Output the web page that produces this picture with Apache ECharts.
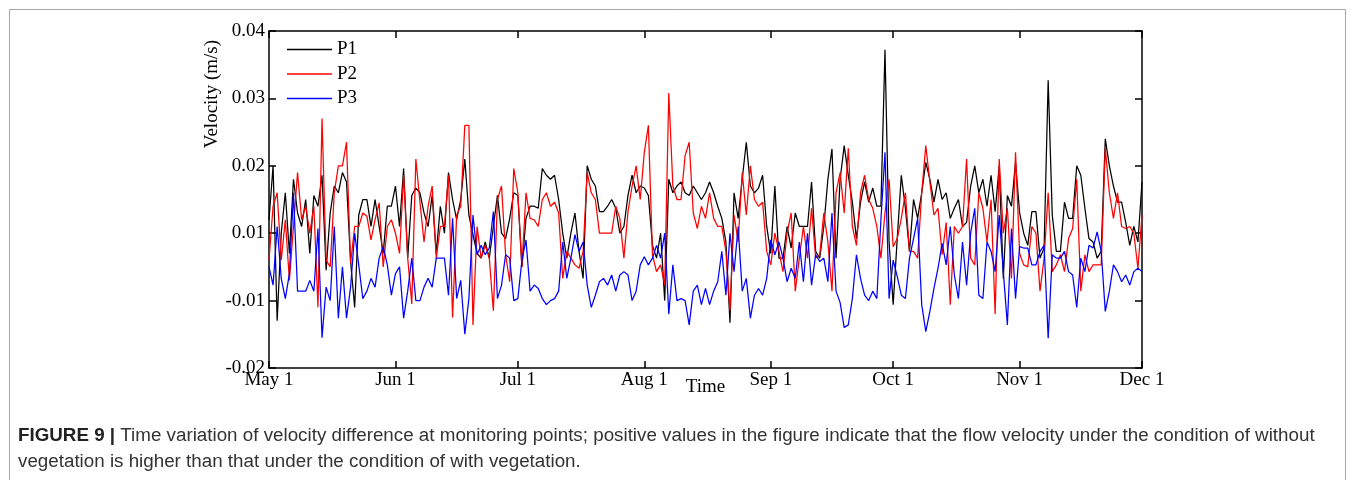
<!DOCTYPE html>
<html>
<head>
<meta charset="utf-8">
<script src="https://cdn.jsdelivr.net/npm/echarts@6/dist/echarts.min.js"></script>
<style>
html,body{margin:0;padding:0;background:#fff;}
#chart{width:1355px;height:480px;}
</style>
</head>
<body>
<div id="chart"></div>
<script>
// Day offsets from May 1 and their tick labels
const monthDays = [0, 31, 61, 92, 123, 153, 184, 214];
const monthLabels = ['May 1', 'Jun 1', 'Jul 1', 'Aug 1', 'Sep 1', 'Oct 1', 'Nov 1', 'Dec 1'];
// Y tick labels as printed in the figure (bottom to top)
const yTickLabels = ['-0.02', '-0.01', '0.01', '0.02', '0.03', '0.04'];
const seriesNames = ['P1', 'P2', 'P3'];

// Daily values, May 1 .. Dec 1 (axis units)
const p1 = [0.012,0.020,-0.003,0.010,0.016,0.007,0.018,0.013,0.011,0.015,0.007,0.0156,0.014,0.0186,0.0045,0.013,0.017,0.016,0.019,0.0176,0.0058,-0.001,0.0127,0.015,0.015,0.011,0.015,0.011,0.007,0.014,0.014,
0.017,0.011,0.0196,0.0063,0.0156,0.0167,0.016,0.013,0.011,0.0156,0.007,0.014,0.010,0.019,0.015,0.012,0.015,0.021,0.0127,0.0098,0.007,0.0063,0.0087,0.0063,0.011,0.0156,0.010,0.0092,0.0122,0.016,
0.0156,0.005,0.0122,0.014,0.014,0.0137,0.0196,0.0186,0.018,0.0186,0.015,0.010,0.0063,0.010,0.013,0.0073,0.0033,0.020,0.018,0.017,0.0132,0.0132,0.014,0.015,0.0137,0.010,0.011,0.0156,0.0186,0.016,0.017,
0.0167,0.0156,0.0082,0.0063,0.010,0.000,0.018,0.016,0.017,0.0176,0.016,0.0156,0.017,0.016,0.015,0.016,0.0176,0.016,0.014,0.0122,0.0087,-0.0033,0.016,0.0122,0.018,0.0235,0.017,0.016,0.0167,0.0186,0.011,
0.007,0.017,0.0063,0.0063,0.011,0.0078,0.013,0.011,0.011,0.011,0.0176,0.0073,0.0063,0.011,0.018,0.0225,0.0063,0.018,0.023,0.0186,0.0146,0.0092,0.0146,0.0176,0.0146,0.0167,0.014,0.014,0.0372,0.0087,
-0.0006,0.0092,0.0186,0.0137,0.0073,0.015,0.0122,0.016,0.0205,0.018,0.0146,0.018,0.015,0.016,0.0122,0.0137,0.015,0.011,0.0116,0.017,0.020,0.016,0.018,0.014,0.0186,0.0132,0.020,0.0033,0.0156,0.014,0.0205,
0.013,0.010,0.0082,0.0132,0.0132,0.0063,0.0078,0.0327,0.0127,0.0073,0.0073,0.0146,0.0122,0.0122,0.020,0.0186,0.0137,0.0092,0.0087,0.0063,0.0073,0.024,0.020,0.017,0.0146,0.0146,0.0116,0.0082,0.011,0.0087,0.0176];

const p2 = [0.006,0.014,0.016,0.006,0.012,0.003,0.011,0.019,0.012,0.014,0.010,0.014,-0.001,0.027,0.006,0.005,0.016,0.020,0.020,0.0235,0.0055,0.011,0.011,0.013,0.0125,0.009,0.012,0.0145,0.005,0.011,0.012,
0.010,0.007,0.0186,0.0063,-0.0005,0.021,0.0146,0.0087,0.014,0.017,0.0063,0.011,0.011,0.0186,-0.0025,0.0127,0.014,0.026,0.026,-0.0036,0.011,0.0063,0.0082,0.0063,-0.0015,0.015,0.017,0.0068,0.0028,0.0196,
0.016,0.005,0.016,0.0122,0.012,0.011,0.015,0.016,0.014,0.0146,0.013,0.0033,0.0073,0.0063,0.0053,0.0048,0.0073,0.019,0.016,0.015,0.010,0.010,0.010,0.010,0.014,0.0122,0.0063,0.0132,0.017,0.020,0.015,
0.022,0.026,0.0068,0.0043,0.0053,0.0023,0.0308,0.017,0.015,0.015,0.0215,0.0235,0.013,0.0107,0.014,0.0122,0.016,0.0122,0.011,0.011,0.0073,-0.0015,0.0127,0.0087,0.019,0.0127,0.020,0.015,0.014,0.0146,0.0073,
0.0053,0.010,0.0073,0.0043,0.010,0.013,0.0014,0.0063,0.011,0.0063,0.0137,0.0063,0.0068,0.013,0.0087,0.0014,0.016,0.019,0.013,0.0226,0.011,0.0082,0.016,0.0186,0.015,0.0137,0.011,0.0063,0.013,0.018,
0.008,0.0092,0.0122,0.016,0.0073,0.0073,0.0063,0.016,0.023,0.0176,0.0127,0.0137,0.0068,0.0116,-0.0006,0.011,0.010,0.011,0.021,0.0063,0.0053,0.016,0.0137,0.0087,0.015,-0.002,0.021,0.010,0.0137,0.0033,0.022,
0.007,0.0053,0.005,0.011,0.010,0.0014,0.0063,0.016,0.0043,0.0053,0.0068,0.0043,0.0092,0.0107,0.018,0.0014,0.0068,0.0043,0.0053,0.0053,0.0053,0.0226,0.016,0.0122,0.016,0.011,0.0107,0.011,0.010,0.0048,0.0127];

const p3 = [0.005,0.0023,0.011,0.0033,0.0003,0.004,0.016,0.0014,0.0014,0.0014,0.003,0.0014,0.0107,-0.0055,0.002,0.000,0.011,-0.0026,0.005,-0.0026,0.002,0.010,0.0053,0.0003,0.0014,0.0033,0.002,0.0063,0.008,0.0053,0.0008,
0.004,0.005,-0.0026,0.0014,0.0063,0.000,0.000,0.002,0.0033,0.002,0.0063,0.0063,0.0063,0.0008,0.0122,0.0003,0.003,-0.005,0.0003,0.0127,0.0068,0.0082,0.0068,0.0078,0.0132,0.0003,0.0023,0.0068,0.0063,0.000,
0.0003,0.006,0.009,0.0014,0.0023,0.0018,0.0003,-0.0006,0.000,0.0003,0.0014,0.0087,0.0033,0.0063,0.0098,0.0073,0.0087,0.0023,-0.001,0.0008,0.0028,0.0033,0.0023,0.0038,0.0014,0.0038,0.0043,0.0038,0.000,0.0014,0.0053,
0.0065,0.0053,0.0063,0.0082,0.0063,0.010,-0.002,0.0053,0.000,0.0003,0.000,-0.0036,0.0014,0.0023,-0.0006,0.0018,-0.0006,0.0014,0.0028,0.0073,0.0008,0.010,0.0043,0.011,0.0014,0.0033,-0.0026,0.0008,0.0018,0.0008,0.0033,
0.009,0.0068,0.0087,0.0063,0.0028,0.0048,0.0033,0.0087,0.0028,0.010,0.0023,0.0068,0.0058,0.0063,0.0028,0.013,0.0014,-0.0003,-0.004,-0.0036,0.0003,0.0068,0.0033,0.0008,0.000,0.0014,0.0003,0.012,0.022,0.0003,
0.006,0.0036,0.0008,0.0003,0.0063,0.0092,0.0122,-0.0006,-0.0046,-0.0016,0.0018,0.0048,0.0085,0.0053,0.011,0.0038,0.0003,0.0087,0.0023,0.010,0.0137,0.0008,0.0003,0.0087,0.0073,0.0043,0.0127,0.0043,-0.0036,0.0107,0.0003,
0.008,0.0078,0.0078,0.0053,0.0053,0.0073,0.0082,-0.0056,0.0068,0.0063,0.0063,0.0073,0.0043,0.0038,-0.001,0.0063,0.0043,0.0082,0.0078,0.0102,0.0073,-0.0016,0.0014,0.0053,0.0043,0.0028,0.0038,0.0023,0.0043,0.0048,0.0043];

const captionBold = 'FIGURE 9 |';
const captionLine1 = ' Time variation of velocity difference at monitoring points; positive values in the figure indicate that the flow velocity under the condition of without';
const captionLine2 = 'vegetation is higher than that under the condition of with vegetation.';

const SERIF = '"Liberation Serif","Times New Roman",serif';
const SANS = '"Liberation Sans",Arial,sans-serif';
const CAP_SIZE = 18.8;
const Y_MIN = -0.01, Y_MAX = 0.04, Y_INT = 0.01;

const chart = echarts.init(document.getElementById('chart'), null, {renderer: 'canvas'});

const xBase = {
  type: 'value', min: 0, max: 214,
  splitLine: {show: false},
  axisLine: {show: true, onZero: false, lineStyle: {color: '#000', width: 1.5}},
};
const yBase = {
  type: 'value', min: Y_MIN, max: Y_MAX, interval: Y_INT,
  splitLine: {show: false},
  axisLine: {show: true, onZero: false, lineStyle: {color: '#000', width: 1.5}},
};

const colors = ['#000000', '#ff0000', '#0000ff'];
const seriesData = [p1, p2, p3];

chart.setOption({
  animation: false,
  backgroundColor: '#fff',
  grid: {left: 269, right: 213, top: 31, bottom: 112, containLabel: false},
  legend: {
    orient: 'vertical', left: 287, top: 40, padding: 0,
    itemWidth: 45, itemHeight: 1.4, itemGap: 5.5, icon: 'rect',
    data: seriesNames,
    textStyle: {fontFamily: SERIF, fontSize: 19, color: '#000', lineHeight: 19}
  },
  xAxis: [
    Object.assign({}, xBase, {
      position: 'bottom',
      name: 'Time', nameLocation: 'middle', nameGap: 10, nameMoveOverlap: false,
      nameTextStyle: {fontFamily: SERIF, fontSize: 19, color: '#000'},
      axisTick: {show: true, inside: true, length: 7, customValues: monthDays, lineStyle: {color: '#000', width: 1.5}},
      axisLabel: {
        show: true, margin: 3, customValues: monthDays, hideOverlap: false,
        fontFamily: SERIF, fontSize: 19, color: '#000',
        formatter: v => monthLabels[monthDays.indexOf(Math.round(v))] || ''
      }
    }),
    Object.assign({}, xBase, {
      position: 'top',
      axisTick: {show: true, inside: true, length: 7, customValues: monthDays, lineStyle: {color: '#000', width: 1.5}},
      axisLabel: {show: false}
    })
  ],
  yAxis: [
    Object.assign({}, yBase, {
      position: 'left',
      axisTick: {show: true, inside: true, length: 7, lineStyle: {color: '#000', width: 1.5}},
      axisLabel: {
        show: true, margin: 4, fontFamily: SERIF, fontSize: 19, color: '#000',
        formatter: v => yTickLabels[Math.round((v - Y_MIN) / Y_INT)]
      }
    }),
    Object.assign({}, yBase, {
      position: 'right',
      axisTick: {show: true, inside: true, length: 7, lineStyle: {color: '#000', width: 1.5}},
      axisLabel: {show: false}
    })
  ],
  series: seriesNames.map((name, s) => ({
    name: name, type: 'line', xAxisIndex: 0, yAxisIndex: 0,
    symbol: 'none', showSymbol: false,
    lineStyle: {color: colors[s], width: 1.25},
    itemStyle: {color: colors[s]},
    data: seriesData[s].map((v, i) => [i, v])
  })),
  graphic: [
    {type: 'rect', silent: true,
      shape: {x: 9.5, y: 9.5, width: 1336, height: 500},
      style: {fill: 'none', stroke: '#a6a6a6', lineWidth: 1}},
    {type: 'text', left: 203, top: 40, rotation: Math.PI / 2,
      style: {text: 'Velocity (m/s)', font: '19px ' + SERIF, fill: '#000'}},
    {type: 'text', left: 18, top: 426,
      style: {
        text: '{b|' + captionBold + '}' + captionLine1,
        font: CAP_SIZE + 'px ' + SANS, fill: '#333',
        rich: {b: {fontWeight: 'bold', fontFamily: SANS, fontSize: CAP_SIZE, fill: '#222'}}
      }},
    {type: 'text', left: 18, top: 452,
      style: {text: captionLine2, font: CAP_SIZE + 'px ' + SANS, fill: '#333'}}
  ]
});
</script>
</body>
</html>
